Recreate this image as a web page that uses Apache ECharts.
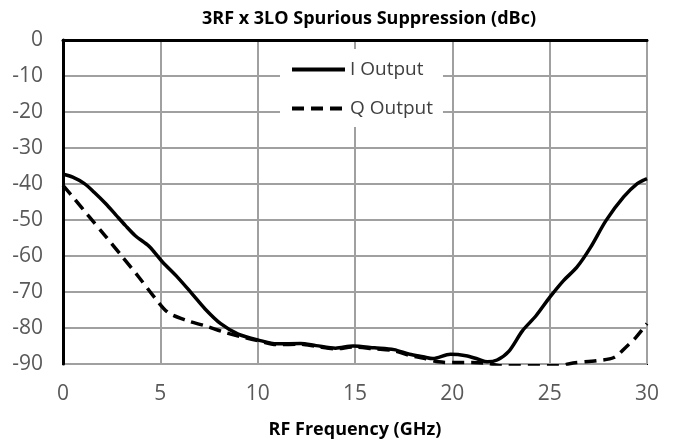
<!DOCTYPE html>
<html>
<head>
<meta charset="utf-8">
<script src="https://cdn.jsdelivr.net/npm/echarts@6/dist/echarts.min.js"></script>
<style>html,body{margin:0;padding:0;background:#fff}#c{width:676px;height:444px}</style>
</head>
<body>
<div id="c"></div>
<script>
const chartTitle = "3RF x 3LO Spurious Suppression (dBc)";
const xAxisTitle = "RF Frequency (GHz)";
const seriesNames = ["I Output", "Q Output"];

const freqI = [0, 0.5, 1.1, 1.6, 2.2, 2.7, 3.2, 3.7, 4.4, 4.7, 5.1, 5.9, 6.6, 7.3, 8.1, 9.0, 10.0, 11.0, 12.2, 13.0, 14.0, 14.9, 16.0, 17.0, 17.8, 18.5, 19.0, 19.9, 20.7, 21.3, 21.8, 22.3, 22.9, 23.6, 24.3, 25.0, 25.7, 26.4, 27.1, 27.9, 28.8, 29.5, 30];
const valI  = [-37.3, -38.1, -39.9, -42.3, -45.5, -48.5, -51.5, -54.3, -57.2, -59.0, -61.6, -66.0, -70.3, -74.7, -78.8, -81.7, -83.3, -84.4, -84.3, -84.9, -85.6, -85.0, -85.5, -86.0, -87.3, -88.0, -88.5, -87.3, -87.7, -88.6, -89.4, -88.9, -86.5, -80.8, -76.6, -71.5, -66.9, -63.1, -57.6, -50.1, -43.6, -39.9, -38.5];

const freqQ = [0, 0.6, 1.3, 2.2, 3.0, 3.9, 4.7, 5.4, 6.4, 7.3, 8.3, 9.2, 10.0, 11.0, 12.2, 13.0, 14.0, 14.9, 16.0, 17.0, 17.8, 18.6, 19.3, 20.0, 21.0, 21.8, 22.5, 25.5, 26.2, 27.4, 28.3, 28.9, 29.4, 30];
const valQ  = [-40.4, -44.2, -48.8, -54.6, -59.9, -65.9, -71.5, -75.7, -78.0, -79.4, -81.2, -82.5, -83.5, -84.6, -84.5, -85.1, -85.8, -85.3, -85.8, -86.3, -87.6, -88.5, -89.4, -89.6, -89.6, -89.8, -90.5, -90.5, -89.7, -89.1, -88.2, -85.4, -82.8, -78.8];

const pairs = (xs, ys) => xs.map((x, i) => [x, ys[i]]);
const font = "Open Sans";

const chart = echarts.init(document.getElementById('c'), null, {renderer: 'canvas'});
chart.setOption({
  animation: false,
  backgroundColor: '#fff',
  title: {
    text: chartTitle,
    left: 197, top: 5,
    textStyle: {fontFamily: font, fontWeight: 'bold', fontSize: 18, color: '#000'}
  },
  legend: {
    orient: 'vertical',
    left: 280, top: 49,
    padding: [11, 10, 9, 10],
    itemWidth: 53, itemHeight: 14, itemGap: 20,
    backgroundColor: '#fff',
    itemStyle: {opacity: 0},
    lineStyle: {width: 4},
    textStyle: {fontFamily: font, fontSize: 19, color: '#404040'},
    data: seriesNames
  },
  grid: {left: 63, right: 29, top: 40, bottom: 80, show: true, borderColor: '#000', borderWidth: 2},
  xAxis: {
    type: 'value', min: 0, max: 30, interval: 5,
    name: xAxisTitle, nameLocation: 'middle', nameGap: 57,
    nameTextStyle: {fontFamily: font, fontWeight: 'bold', fontSize: 18, color: '#000'},
    axisLine: {show: true, lineStyle: {color: '#000', width: 3}},
    axisTick: {show: false},
    axisLabel: {fontFamily: font, fontSize: 21, color: '#595959', margin: 20},
    splitLine: {show: true, lineStyle: {color: '#a0a0a0', width: 2}}
  },
  yAxis: {
    type: 'value', min: -90, max: 0, interval: 10,
    axisLine: {show: true, lineStyle: {color: '#000', width: 3}},
    axisTick: {show: false},
    axisLabel: {fontFamily: font, fontSize: 21, color: '#595959', margin: 20},
    splitLine: {show: true, lineStyle: {color: '#a0a0a0', width: 2}}
  },
  series: [
    {name: seriesNames[0], type: 'line', data: pairs(freqI, valI), showSymbol: false, symbol: 'none', smooth: 0.3,
     lineStyle: {color: '#000', width: 3.5}, itemStyle: {color: '#000'}},
    {name: seriesNames[1], type: 'line', data: pairs(freqQ, valQ), showSymbol: false, symbol: 'none', smooth: 0.3, clip: true,
     lineStyle: {color: '#000', width: 3.5, type: [12, 7]}, itemStyle: {color: '#000'}}
  ]
});
</script>
</body>
</html>
